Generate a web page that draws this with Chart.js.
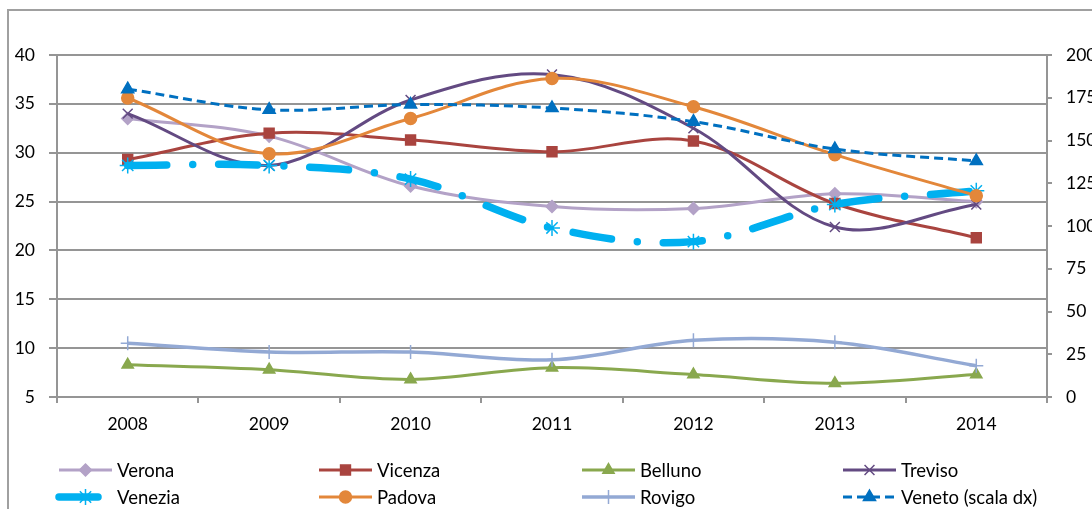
<!DOCTYPE html>
<html>
<head>
<meta charset="utf-8">
<script src="https://cdn.jsdelivr.net/npm/chart.js@4.4.1/dist/chart.umd.min.js"></script>
<style>
  html, body { margin: 0; padding: 0; background: #fff; overflow: hidden; }
</style>
</head>
<body>
<canvas id="veneto" width="1092" height="509"></canvas>
<script>
// anni
var anni = ['2008', '2009', '2010', '2011', '2012', '2013', '2014'];

// province (scala sx)
var verona  = [33.5, 31.7, 26.6, 24.5, 24.3, 25.8, 25.0];
var vicenza = [29.3, 32.0, 31.3, 30.1, 31.2, 24.8, 21.3];
var belluno = [8.3, 7.8, 6.8, 8.0, 7.3, 6.4, 7.3];
var treviso = [34.0, 28.7, 35.4, 38.0, 32.5, 22.4, 24.7];
var venezia = [28.7, 28.7, 27.3, 22.3, 20.9, 24.7, 26.1];
var padova  = [35.6, 29.9, 33.5, 37.6, 34.7, 29.8, 25.6];
var rovigo  = [10.5, 9.6, 9.6, 8.8, 10.8, 10.6, 8.2];

// regione (scala dx)
var veneto  = [180, 168, 171, 169, 161, 145, 138];

var font = { family: 'Lato', size: 17.5 };
var grigio = '#959595';

function serie(label, data, color, style, radius, width, extra) {
  var ds = {
    label: label,
    data: data,
    borderColor: color,
    backgroundColor: color,
    borderWidth: width,
    pointStyle: style,
    pointRadius: radius,
    pointBackgroundColor: color,
    pointBorderColor: color,
    pointBorderWidth: 1.5,
    tension: 0.35,
    yAxisID: 'y',
  };
  for (var k in extra) ds[k] = extra[k];
  return ds;
}

var datasets = [
  serie('Verona', verona, '#B3A2C7', 'rectRot', 6, 3),
  serie('Vicenza', vicenza, '#A9443F', 'rect', 7, 3),
  serie('Belluno', belluno, '#89A84E', 'triangle', 6.5, 3),
  serie('Treviso', treviso, '#634A82', 'crossRot', 7, 3),
  serie('Venezia', venezia, '#00B0F0', 'star', 8, 7.5, { borderDash: [39, 26, 0, 26], borderCapStyle: 'round' }),
  serie('Padova', padova, '#E3873A', 'circle', 6, 3),
  serie('Rovigo', rovigo, '#93A9D4', 'cross', 7, 3.5),
  serie('Veneto (scala dx)', veneto, '#0070C0', 'triangle', 7, 3, { borderDash: [9, 5], yAxisID: 'y1' }),
];
datasets.forEach(function (ds, i) { ds.order = datasets.length - i; });

var legendaPlugin = {
  id: 'legenda',
  beforeDraw: function (chart) {
    var ctx = chart.ctx;
    ctx.save();
    ctx.strokeStyle = '#a0a0a0';
    ctx.lineWidth = 2;
    ctx.strokeRect(8, 10, 2000, 2000);
    ctx.restore();
  },
  afterDraw: function (chart) {
    var ctx = chart.ctx;
    var colX = [59, 319, 582, 843];
    var rowY = [470, 497];
    chart.data.datasets.forEach(function (ds, i) {
      var x = colX[i % 4], y = rowY[Math.floor(i / 4)];
      ctx.save();
      ctx.strokeStyle = ds.borderColor;
      ctx.lineWidth = ds.borderWidth;
      ctx.lineCap = ds.borderCapStyle || 'butt';
      ctx.setLineDash(ds.borderDash || []);
      ctx.beginPath();
      ctx.moveTo(x, y);
      ctx.lineTo(x + 53, y);
      ctx.stroke();
      ctx.setLineDash([]);
      ctx.lineCap = 'butt';
      ctx.fillStyle = ds.pointBackgroundColor;
      ctx.strokeStyle = ds.pointBorderColor;
      ctx.lineWidth = ds.pointBorderWidth;
      Chart.helpers.drawPoint(ctx, {
        pointStyle: ds.pointStyle, radius: ds.pointRadius,
        borderWidth: ds.pointBorderWidth, rotation: 0
      }, x + 26.5, y);
      ctx.fillStyle = '#000';
      ctx.font = '18.5px Lato';
      ctx.textBaseline = 'middle';
      ctx.fillText(ds.label, x + 58, y + 1);
      ctx.restore();
    });
  }
};

new Chart(document.getElementById('veneto'), {
  type: 'line',
  data: { labels: anni, datasets: datasets },
  options: {
    responsive: false,
    animation: false,
    layout: { padding: { top: 55, left: 0, right: 0, bottom: 0 } },
    plugins: {
      legend: { display: false },
      tooltip: { enabled: false },
    },
    scales: {
      x: {
        offset: true,
        grid: { offset: true, drawOnChartArea: false, tickLength: 6, color: grigio, lineWidth: 2 },
        border: { color: grigio, width: 2 },
        ticks: { color: '#000', font: font, padding: 11 },
        afterFit: function (s) { s.height = 112; },
      },
      y: {
        position: 'left',
        min: 5, max: 40,
        grid: { tickLength: 8, color: grigio, lineWidth: 2 },
        border: { color: grigio, width: 2 },
        ticks: { stepSize: 5, color: '#000', font: font, padding: 14 },
        afterFit: function (s) { s.width = 57; },
      },
      y1: {
        position: 'right',
        min: 0, max: 200,
        grid: { drawOnChartArea: false, tickLength: 5, color: grigio, lineWidth: 2 },
        border: { color: grigio, width: 2 },
        ticks: { stepSize: 25, color: '#000', font: font, padding: 14 },
        afterFit: function (s) { s.width = 45; },
      },
    },
  },
  plugins: [legendaPlugin],
});
</script>
</body>
</html>
